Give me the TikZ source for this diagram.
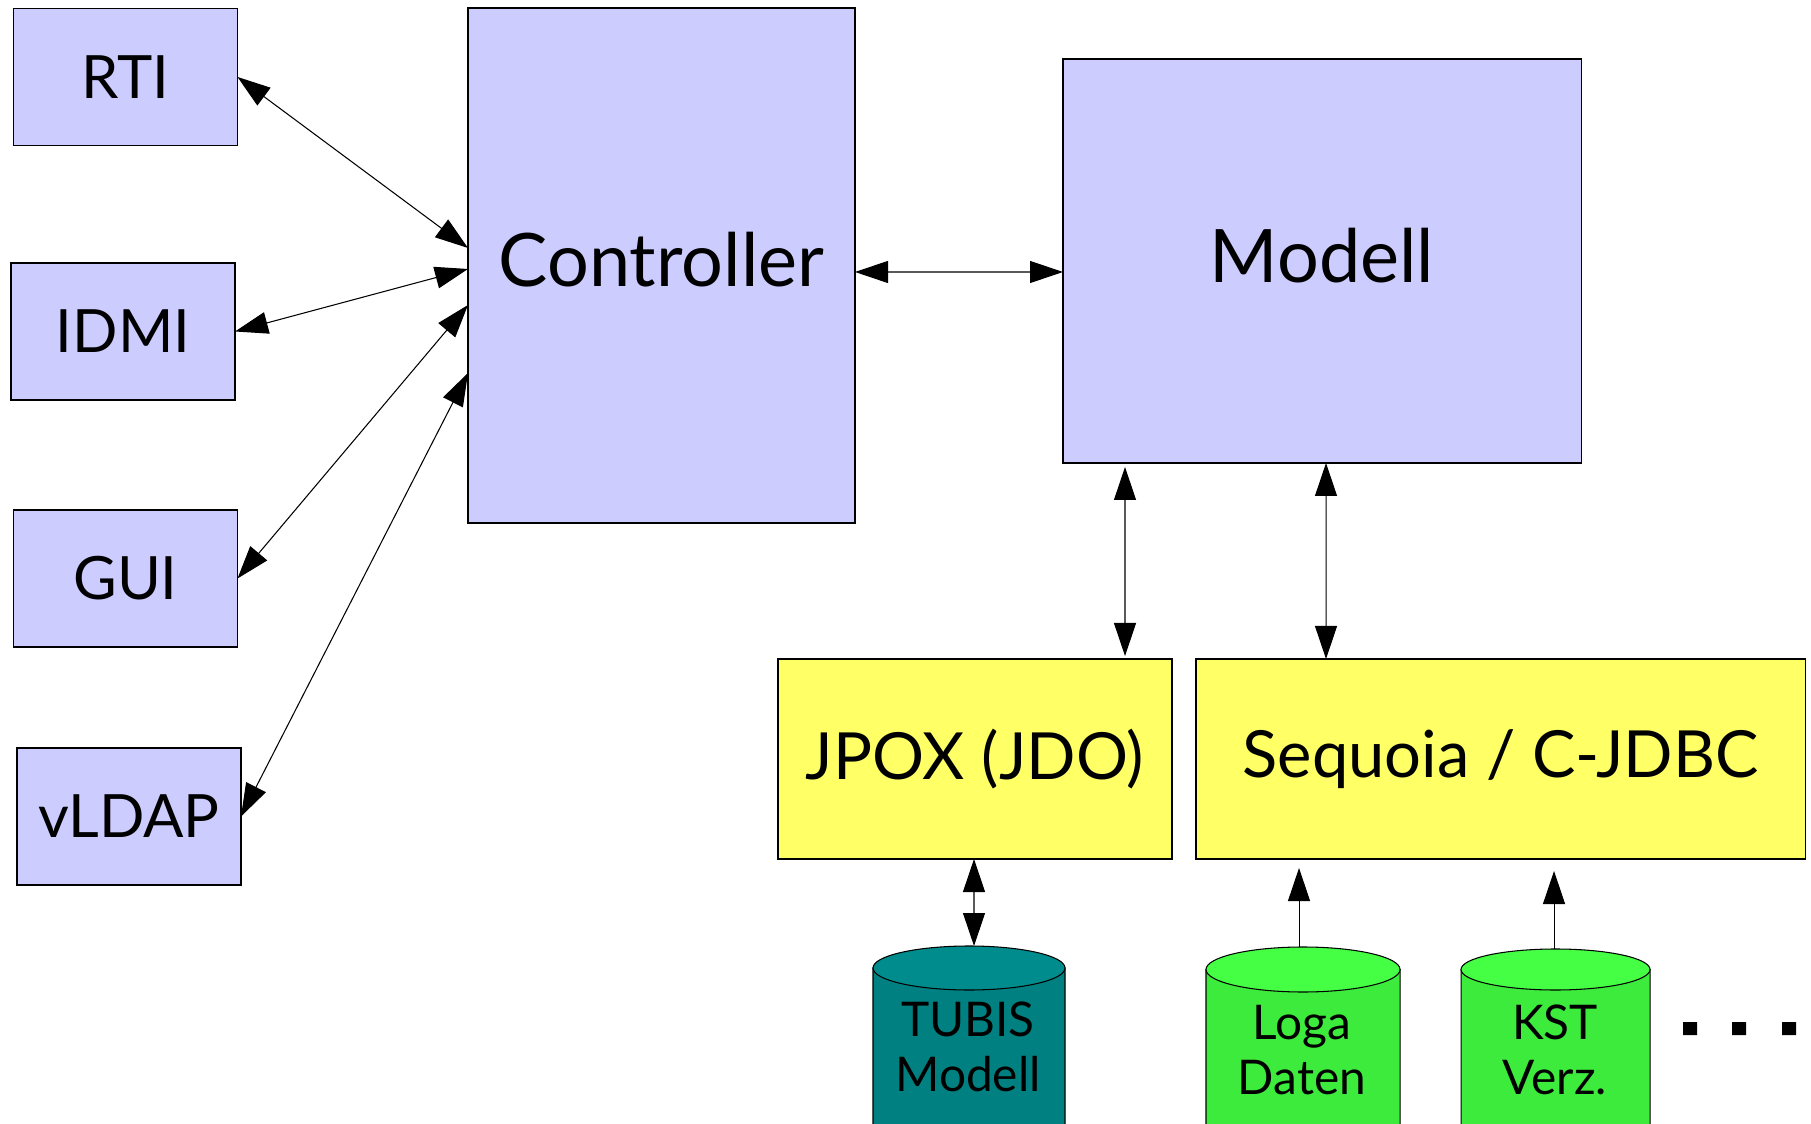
\documentclass[tikz,border=0pt]{standalone}
\usepackage{fontspec}
\setmainfont{Lato}
\usetikzlibrary{arrows.meta}
\definecolor{lav}{HTML}{CCCCFF}
\definecolor{lemon}{HTML}{FFFF66}
\definecolor{tealbody}{HTML}{008080}
\definecolor{tealtop}{HTML}{008C8C}
\definecolor{greenbody}{HTML}{3DEB3D}
\definecolor{greentop}{HTML}{44FF44}

\begin{document}
\begin{tikzpicture}[
  box/.style={draw, line width=0.3pt, fill=lav, inner sep=0pt, outer sep=0pt},
  small/.style={box, minimum width=22.4mm, minimum height=13.7mm, font=\fontsize{17}{20}\selectfont},
  big/.style={box, text depth=1.2mm, font=\fontsize{21}{25}\selectfont},
  layer/.style={box, fill=lemon, minimum height=20mm, font=\fontsize{18.5}{22}\selectfont},
  dbtext/.style={align=center, inner sep=0pt, font=\fontsize{13.6}{15.6}\selectfont},
  link/.style={line width=0.3pt, {Triangle[length=3.3mm,width=2.2mm]}-{Triangle[length=3.3mm,width=2.2mm]}},
  feed/.style={line width=0.3pt, -{Triangle[length=3.3mm,width=2.2mm]}},
]
\useasboundingbox (0,0) rectangle (181.1mm,112.3mm);
% clients
\node[small] (rti) at (12.55mm,104.6mm) {RTI};
\node[small] (idmi) at (12.3mm,79.15mm) {IDMI};
\node[small] (gui) at (12.55mm,54.45mm) {GUI};
\node[small] (vldap) at (12.9mm,30.65mm) {vLDAP};
\node[big, minimum width=38.7mm, minimum height=51.5mm] (ctrl) at (66.15mm,85.75mm) {Controller};
\node[big, minimum width=51.8mm, minimum height=40.4mm] (modell) at (132.2mm,86.2mm) {Modell};
\node[layer, minimum width=39.4mm] (jpox) at (97.5mm,36.4mm) {JPOX (JDO)};
\node[layer, minimum width=60.9mm] (seq) at (150.05mm,36.4mm) {Sequoia / C-JDBC};
% databases
\draw[line width=0.3pt, fill=tealbody] (87.3mm,15.5mm) -- (87.3mm,-0.2mm) arc[start angle=180, end angle=360, x radius=9.6mm, y radius=2.2mm] -- (106.5mm,15.5mm) -- cycle;
\draw[line width=0.3pt, fill=tealtop] (96.9mm,15.5mm) ellipse[x radius=9.6mm, y radius=2.2mm];
\draw[line width=0.3pt, fill=greenbody] (120.6mm,15.35mm) -- (120.6mm,-0.3mm) arc[start angle=180, end angle=360, x radius=9.7mm, y radius=2.25mm] -- (140mm,15.35mm) -- cycle;
\draw[line width=0.3pt, fill=greentop] (130.3mm,15.35mm) ellipse[x radius=9.7mm, y radius=2.25mm];
\draw[line width=0.3pt, fill=greenbody] (146.1mm,15.35mm) -- (146.1mm,-0.3mm) arc[start angle=180, end angle=360, x radius=9.45mm, y radius=2.05mm] -- (165mm,15.35mm) -- cycle;
\draw[line width=0.3pt, fill=greentop] (155.55mm,15.35mm) ellipse[x radius=9.45mm, y radius=2.05mm];
\node[dbtext] (tubis) at (96.8mm,7.6mm) {TUBIS\\Modell};
\node[dbtext] (loga) at (130.2mm,7.3mm) {Loga\\Daten};
\node[dbtext] (kst) at (155.5mm,7.3mm) {KST\\Verz.};
\coordinate (tubis top) at (97.4mm,17.7mm);
\coordinate (loga top) at (129.9mm,17.6mm);
\coordinate (kst top) at (155.4mm,17.4mm);
% connectors
\draw[link] (rti.east) -- ([yshift=1.75mm]ctrl.west);
\draw[link] (idmi.east) -- ([yshift=-0.35mm]ctrl.west);
\draw[link] (gui.east) -- ([yshift=-3.95mm]ctrl.west);
\draw[link] (vldap.east) -- ([yshift=-10.75mm]ctrl.west);
\draw[link] ([yshift=-0.65mm]ctrl.east) -- ([yshift=-1.1mm]modell.west);
\draw[link] ([xshift=-19.7mm,yshift=-0.4mm]modell.south) -- ([xshift=15mm,yshift=0.3mm]jpox.north);
\draw[link] ([xshift=0.4mm]modell.south) -- ([xshift=-17.45mm]seq.north);
\draw[link] ([xshift=-0.1mm]jpox.south) -- (tubis top);
\draw[feed, shorten >=0.9mm] (loga top) -- (loga top |- seq.south);
\draw[feed, shorten >=1.2mm] (kst top) -- (kst top |- seq.south);
% more sources
\fill (168.3mm,8.8mm) rectangle +(1.4mm,1.3mm) (173.2mm,8.8mm) rectangle +(1.4mm,1.3mm) (178.2mm,8.8mm) rectangle +(1.4mm,1.3mm);
\end{tikzpicture}
\end{document}
